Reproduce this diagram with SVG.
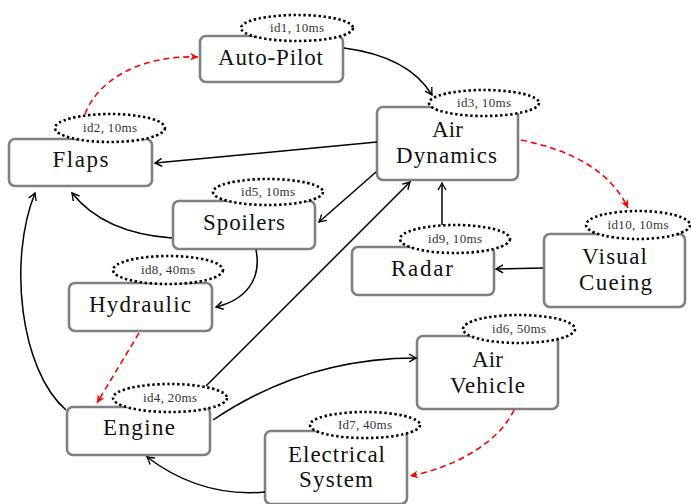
<svg xmlns="http://www.w3.org/2000/svg" width="691" height="504" viewBox="0 0 691 504">
<style>
.box{fill:#fff;stroke:#808080;stroke-width:2.6}
.tag{fill:#fff;stroke:#000;stroke-width:2.6;stroke-dasharray:2.4 2.6}
.lbl{font-family:"Liberation Serif",serif;font-size:23px;fill:#111;text-anchor:middle}
.sm{font-family:"Liberation Serif",serif;font-size:13px;fill:#333;text-anchor:middle}
.c{fill:none;stroke:#000;stroke-width:1.5;marker-end:url(#ab)}
.r{fill:none;stroke:#f00;stroke-width:1.6;stroke-dasharray:6 4;marker-end:url(#ar)}
</style>
<defs>
<marker id="ab" viewBox="-8 -5 10 10" refX="0" refY="0" markerWidth="10" markerHeight="10" markerUnits="userSpaceOnUse" orient="auto">
<path d="M-7,-4 Q-2,-1 0,0 Q-2,1 -7,4" fill="none" stroke="#000" stroke-width="1.4"/>
</marker>
<marker id="ar" viewBox="-9 -5 10 10" refX="0" refY="0" markerWidth="10" markerHeight="10" markerUnits="userSpaceOnUse" orient="auto">
<path d="M0,0 L-8,-4 L-5.5,0 L-8,4 Z" fill="#f00"/>
</marker>
</defs>
<g id="n-autopilot"><rect class="box" x="200" y="36" width="143" height="46" rx="6"/><ellipse class="tag" cx="297" cy="28" rx="56" ry="13"/><text class="sm" x="297" y="32" textLength="54" lengthAdjust="spacing">id1, 10ms</text><text class="lbl" x="270.5" y="65" textLength="105" lengthAdjust="spacing">Auto-Pilot</text></g>
<g id="n-flaps"><rect class="box" x="9" y="139" width="143" height="47" rx="6"/><ellipse class="tag" cx="110" cy="128" rx="55" ry="14"/><text class="sm" x="110" y="132" textLength="54" lengthAdjust="spacing">id2, 10ms</text><text class="lbl" x="80.5" y="167" textLength="56" lengthAdjust="spacing">Flaps</text></g>
<g id="n-airdyn"><rect class="box" x="377" y="107" width="141" height="73" rx="6"/><ellipse class="tag" cx="484" cy="103" rx="55" ry="13"/><text class="sm" x="484" y="107" textLength="54" lengthAdjust="spacing">id3, 10ms</text><text class="lbl" x="447.5" y="137" textLength="31" lengthAdjust="spacing">Air</text><text class="lbl" x="446.5" y="163" textLength="101" lengthAdjust="spacing">Dynamics</text></g>
<g id="n-spoilers"><rect class="box" x="173" y="201" width="142" height="48" rx="6"/><ellipse class="tag" cx="268" cy="192" rx="55" ry="13"/><text class="sm" x="268" y="196" textLength="54" lengthAdjust="spacing">id5, 10ms</text><text class="lbl" x="244" y="230" textLength="82" lengthAdjust="spacing">Spoilers</text></g>
<g id="n-radar"><rect class="box" x="352" y="247" width="142" height="48" rx="6"/><ellipse class="tag" cx="455" cy="239" rx="55" ry="14"/><text class="sm" x="455" y="243" textLength="54" lengthAdjust="spacing">id9, 10ms</text><text class="lbl" x="422" y="276" textLength="62" lengthAdjust="spacing">Radar</text></g>
<g id="n-visual"><rect class="box" x="544" y="234" width="141" height="73" rx="6"/><ellipse class="tag" cx="638" cy="225" rx="52" ry="14"/><text class="sm" x="638" y="229" textLength="61" lengthAdjust="spacing">id10, 10ms</text><text class="lbl" x="614.5" y="264" textLength="65" lengthAdjust="spacing">Visual</text><text class="lbl" x="615.5" y="290" textLength="73" lengthAdjust="spacing">Cueing</text></g>
<g id="n-hydraulic"><rect class="box" x="69" y="283" width="143" height="48" rx="6"/><ellipse class="tag" cx="168" cy="270" rx="55" ry="14"/><text class="sm" x="168" y="274" textLength="54" lengthAdjust="spacing">id8, 40ms</text><text class="lbl" x="140" y="312" textLength="102" lengthAdjust="spacing">Hydraulic</text></g>
<g id="n-airveh"><rect class="box" x="417" y="336" width="141" height="73" rx="6"/><ellipse class="tag" cx="519" cy="329" rx="56" ry="14"/><text class="sm" x="519" y="333" textLength="54" lengthAdjust="spacing">id6, 50ms</text><text class="lbl" x="487.5" y="367" textLength="31" lengthAdjust="spacing">Air</text><text class="lbl" x="487.5" y="393" textLength="75" lengthAdjust="spacing">Vehicle</text></g>
<g id="n-engine"><rect class="box" x="67" y="407" width="143" height="48" rx="6"/><ellipse class="tag" cx="170" cy="398" rx="57" ry="14"/><text class="sm" x="170" y="402" textLength="54" lengthAdjust="spacing">id4, 20ms</text><text class="lbl" x="139" y="435" textLength="72" lengthAdjust="spacing">Engine</text></g>
<g id="n-electrical"><rect class="box" x="265" y="431" width="142" height="73" rx="6"/><ellipse class="tag" cx="365" cy="425" rx="55" ry="13"/><text class="sm" x="365" y="429" textLength="54" lengthAdjust="spacing">Id7, 40ms</text><text class="lbl" x="336.5" y="462" textLength="97" lengthAdjust="spacing">Electrical</text><text class="lbl" x="336" y="487" textLength="74" lengthAdjust="spacing">System</text></g>
<g id="connectors">
<path class="c" d="M344,48 C390,54 418,72 432,95"/>
<path class="c" d="M377,142 L155,163"/>
<path class="c" d="M376,172 L319,222"/>
<path class="c" d="M442,225 L442,183"/>
<path class="c" d="M206,386 L410,182"/>
<path class="c" d="M543,268 L496,269"/>
<path class="c" d="M66,410 C20,370 8,260 35,193"/>
<path class="c" d="M172,238 C130,235 95,222 72,193"/>
<path class="c" d="M256,250 C262,280 245,300 216,307"/>
<path class="c" d="M213,420 C265,385 330,358 416,358"/>
<path class="c" d="M265,492 C220,496 180,482 147,457"/>
<path class="r" d="M85,114 C98,80 140,55 198,57"/>
<path class="r" d="M521,140 C570,150 610,170 628,208"/>
<path class="r" d="M139,333 L97,403"/>
<path class="r" d="M514,410 C500,440 460,466 410,476"/>
</g>
</svg>
